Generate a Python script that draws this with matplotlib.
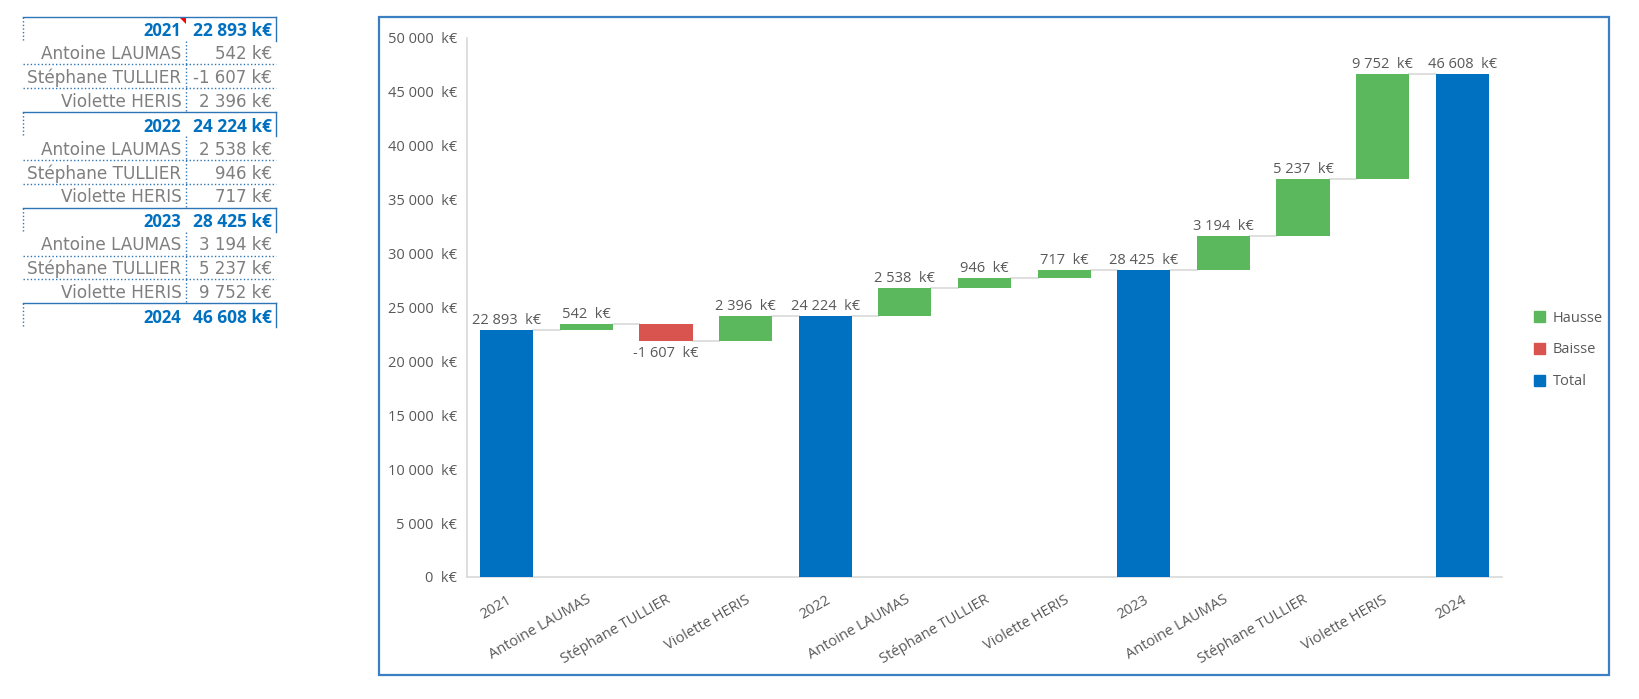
import matplotlib
matplotlib.use('Agg')
import matplotlib.pyplot as plt
from matplotlib.patches import Patch, Rectangle, Polygon
from matplotlib.lines import Line2D

categories = ['2021', 'Antoine LAUMAS', 'Stéphane TULLIER', 'Violette HERIS',
              '2022', 'Antoine LAUMAS', 'Stéphane TULLIER', 'Violette HERIS',
              '2023', 'Antoine LAUMAS', 'Stéphane TULLIER', 'Violette HERIS',
              '2024']
values = [22893, 542, -1607, 2396,
          24224, 2538, 946, 717,
          28425, 3194, 5237, 9752,
          46608]
is_total = [True, False, False, False,
            True, False, False, False,
            True, False, False, False,
            True]
y_ticks = [0, 5000, 10000, 15000, 20000, 25000, 30000, 35000, 40000, 45000, 50000]

c_up = '#5cb85c'
c_down = '#d9534f'
c_total = '#0070c0'
c_text = '#595959'
c_grid = '#d9d9d9'
c_table_blue = '#2e75b6'
c_table_gray = '#7f7f7f'

W, H = 1639, 699
chart_font = ['Open Sans', 'DejaVu Sans']


def k_eur(v, sep='  '):
    return f"{v:,}".replace(',', ' ') + sep + 'k€'


def px(x, y):
    return x / W, 1 - y / H


plt.rcParams['font.family'] = chart_font
fig = plt.figure(figsize=(W / 100, H / 100), dpi=100)

# ---- waterfall chart ----
ax = fig.add_axes([467 / W, 1 - 577 / H, (1502 - 467) / W, (577 - 37.5) / H])

bw = 0.667
running = 0
ends = []
for i, (v, tot) in enumerate(zip(values, is_total)):
    if tot:
        bottom, height, col = 0, v, c_total
        running = v
        label_y, va, off = v, 'bottom', 1.5
    else:
        if v >= 0:
            bottom, height, col = running, v, c_up
            label_y, va, off = running + v, 'bottom', 1.5
        else:
            bottom, height, col = running + v, -v, c_down
            label_y, va, off = running + v, 'top', -3.5
        running += v
    ax.bar(i, height, bottom=bottom, width=bw, color=col, zorder=3)
    ax.annotate(k_eur(v), (i, label_y), xytext=(0, off), textcoords='offset points',
                ha='center', va=va, fontsize=10.5, color=c_text)
    ends.append(running)

for i in range(len(values) - 1):
    ax.plot([i + bw / 2, i + 1 - bw / 2], [ends[i], ends[i]], color=c_grid, lw=1.2, zorder=2)

ax.set_xlim(-0.5, len(values) - 0.5)
ax.set_ylim(0, 50000)
ax.set_yticks(y_ticks)
ax.set_yticklabels([k_eur(t) for t in y_ticks])
ax.set_xticks(range(len(categories)))
ax.set_xticklabels(categories)
ax.tick_params(axis='y', length=0, pad=7, labelsize=10.5, labelcolor=c_text)
ax.tick_params(axis='x', length=0, pad=11, labelsize=10.5, labelcolor=c_text)
plt.setp(ax.get_xticklabels(), rotation=30, ha='right', rotation_mode='anchor')
for s in ['top', 'right']:
    ax.spines[s].set_visible(False)
for s in ['left', 'bottom']:
    ax.spines[s].set_color(c_grid)
    ax.spines[s].set_linewidth(1.2)

handles = [Patch(color=c_up, label='Hausse'),
           Patch(color=c_down, label='Baisse'),
           Patch(color=c_total, label='Total')]
fig.legend(handles=handles, loc='center left', bbox_to_anchor=px(1527, 350),
           frameon=False, fontsize=10.5, labelcolor=c_text, borderpad=0,
           handlelength=0.75, handleheight=0.75, handletextpad=0.5, labelspacing=1.15)

# chart border
fig.add_artist(Rectangle(px(379, 675), (1609 - 379) / W, (675 - 16.7) / H,
                         transform=fig.transFigure, fill=False,
                         edgecolor='#3a7fc1', lw=1.6))

# ---- spreadsheet table on the left ----
x_left, x_div, x_right = 23.3, 186, 276
row_top, row_h = 16.7, 23.88


def hline(x0, x1, y, dotted=False):
    fig.add_artist(Line2D([x0 / W, x1 / W], [1 - y / H, 1 - y / H], transform=fig.transFigure,
                          color=c_table_blue, lw=1,
                          linestyle=(0, (1, 1.6)) if dotted else '-'))


def vline(x, y0, y1, dotted=False):
    fig.add_artist(Line2D([x / W, x / W], [1 - y0 / H, 1 - y1 / H], transform=fig.transFigure,
                          color=c_table_blue, lw=1,
                          linestyle=(0, (1, 1.6)) if dotted else '-'))


for i, (name, v, tot) in enumerate(zip(categories, values, is_total)):
    top = row_top + i * row_h
    bot = top + row_h
    if tot:
        hline(x_left, x_right, top)
        vline(x_left, top, bot, dotted=True)
        vline(x_right, top, bot)
        fig.text(*px(181, bot - 4.6), name, ha='right', va='baseline', fontsize=12,
                 family='Open Sans', weight='bold', color='#0070c0')
        fig.text(*px(272, bot - 4.6), k_eur(v, ' '), ha='right', va='baseline', fontsize=12.5,
                 family='Open Sans', weight='bold', color='#0070c0')
    else:
        vline(x_div, top, bot, dotted=True)
        if i + 1 < len(values) and not is_total[i + 1]:
            hline(x_left, x_right, bot, dotted=True)
        fig.text(*px(181.5, bot - 5.3), name, ha='right', va='baseline', fontsize=12.2,
                 family='DejaVu Sans', color=c_table_gray)
        fig.text(*px(272, bot - 5.3), k_eur(v, ' '), ha='right', va='baseline', fontsize=12,
                 family='DejaVu Sans', color=c_table_gray)

# comment marker on the first cell
fig.add_artist(Polygon([px(179, 17.2), px(186, 17.2), px(186, 24.2)], closed=True,
                       transform=fig.transFigure, color='red', lw=0))

fig.savefig('out.png', dpi=100)
